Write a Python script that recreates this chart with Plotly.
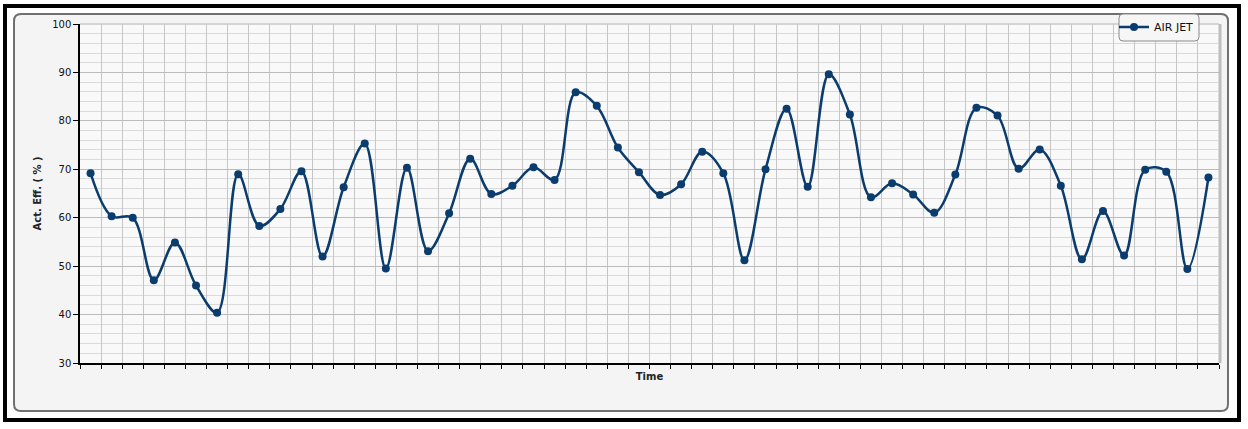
import plotly.graph_objects as go

# ---- data ----
times = [str(i) for i in range(1, 55)]
air_jet = [69.2, 60.3, 60.0, 47.1, 54.9, 46.0, 40.4, 69.0, 58.3, 61.8,
           69.6, 52.0, 66.3, 75.3, 49.5, 70.3, 53.1, 60.9, 72.2, 64.9,
           66.6, 70.4, 67.8, 85.9, 83.1, 74.5, 69.4, 64.7, 66.9, 73.6,
           69.2, 51.2, 70.0, 82.5, 66.4, 89.6, 81.3, 64.2, 67.1, 64.8,
           61.0, 68.9, 82.7, 81.1, 70.1, 74.1, 66.6, 51.4, 61.4, 52.2,
           69.9, 69.5, 49.4, 68.3]
series_name = "AIR JET"
y_title = "Act. Eff. ( % )"
x_title = "Time"
y_range = [30, 100]

# ---- layout geometry (pixels) ----
W, H = 1248, 429
PL, PR, PT, PB = 80, 1219, 24, 363
pw, ph = PR - PL, PB - PT

def px(x):
    return (x - PL) / pw

def py(y):
    return (PB - y) / ph

def rrect(x0, y0, x1, y1, r):
    a, b, c, d = px(x0), py(y0), px(x1), py(y1)
    rx, ry = r / pw, r / ph
    return (f"M{a+rx},{b} L{c-rx},{b} Q{c},{b} {c},{b-ry} "
            f"L{c},{d+ry} Q{c},{d} {c-rx},{d} L{a+rx},{d} "
            f"Q{a},{d} {a},{d+ry} L{a},{b-ry} Q{a},{b} {a+rx},{b} Z")

NAVY = "#0b3c6e"
FONT = "DejaVu Sans"

fig = go.Figure()
fig.add_trace(go.Scatter(
    x=times, y=air_jet, name=series_name, mode="lines+markers",
    line=dict(color=NAVY, width=2.5, shape="spline", smoothing=1.0),
    marker=dict(color=NAVY, size=8),
))

shapes = [
    # outer black frame
    dict(type="rect", xref="paper", yref="paper", layer="below",
         x0=px(5), x1=px(1239), y0=py(420), y1=py(6),
         line=dict(color="black", width=4)),
    # grey rounded panel
    dict(type="path", xref="paper", yref="paper", layer="below",
         path=rrect(14, 14, 1228, 411, 7), fillcolor="#f4f4f4",
         line=dict(color="#707070", width=2)),
    # plot area background
    dict(type="rect", xref="paper", yref="paper", layer="below",
         x0=0, x1=1, y0=0, y1=1, fillcolor="#f9f9f9", line=dict(width=0)),
    # plot area shadow top/right
    dict(type="line", xref="paper", yref="paper", layer="below",
         x0=0, x1=1, y0=1, y1=1, line=dict(color="#d4d4d4", width=2)),
    dict(type="line", xref="paper", yref="paper", layer="below",
         x0=px(1220), x1=px(1220), y0=0, y1=1, line=dict(color="#bdbdbd", width=3)),
    # legend box
    dict(type="path", xref="paper", yref="paper", layer="above",
         path=rrect(1119, 14, 1199, 41, 4), fillcolor="#f6f6f6",
         line=dict(color="#8a8a8a", width=1)),
]

fig.update_layout(
    width=W, height=H,
    margin=dict(l=PL, r=W - PR, t=PT, b=H - PB, autoexpand=False),
    paper_bgcolor="white", plot_bgcolor="#f9f9f9",
    font=dict(family=FONT, size=10, color="#111111"),
    shapes=shapes,
    showlegend=True,
    legend=dict(x=px(1114), y=py(12.5), xanchor="left", yanchor="top",
                bgcolor="rgba(0,0,0,0)", borderwidth=0,
                font=dict(family=FONT, size=11, color="#111111")),
    xaxis=dict(
        type="category", range=[-0.5, len(times) - 0.5],
        tickson="boundaries", ticks="outside", ticklen=4, tickcolor="black",
        showticklabels=False, showgrid=True, gridcolor="#c6c6c6", gridwidth=1,
        showline=True, linecolor="black", linewidth=2, zeroline=False,
        title=dict(text=x_title, standoff=9,
                   font=dict(family=FONT, size=10, color="#222222", weight="bold")),
    ),
    yaxis=dict(
        range=y_range, dtick=10, tick0=30, ticks="outside", ticklen=5,
        tickcolor="black", showgrid=True, gridcolor="#bcbcbc", gridwidth=1,
        minor=dict(dtick=2, showgrid=True, gridcolor="#dadada", ticks=""),
        showline=True, linecolor="black", linewidth=1.5, zeroline=False,
        tickfont=dict(family=FONT, size=10, color="#111111"),
        title=dict(text=y_title, standoff=9,
                   font=dict(family=FONT, size=10, color="#222222", weight="bold")),
    ),
)

fig.write_html("out.html", config={"displayModeBar": False},
               post_script="document.body.style.margin='0';document.body.style.overflow='hidden';")
